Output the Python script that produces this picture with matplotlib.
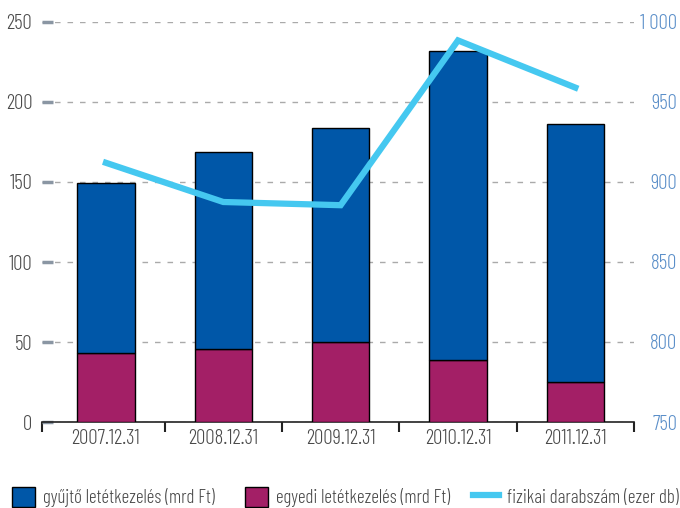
import matplotlib
matplotlib.use("Agg")
import matplotlib.pyplot as plt
import numpy as np

plt.rcParams['font.family'] = ['Barlow Condensed', 'DejaVu Sans']
plt.rcParams['font.weight'] = 300

categories = ["2007.12.31", "2008.12.31", "2009.12.31", "2010.12.31", "2011.12.31"]
total = [149.5, 169, 183.5, 232, 186.5]
egyedi = [43, 45.5, 50, 39, 25]
gyujto = [t - e for t, e in zip(total, egyedi)]
fizikai = [912, 887.5, 885.5, 988.5, 959]

left_ticks = [0, 50, 100, 150, 200, 250]
right_ticks = [750, 800, 850, 900, 950, 1000]
right_labels = ["750", "800", "850", "900", "950", "1 000"]

c_blue = "#0057A8"
c_mag = "#A31F66"
c_line = "#45C8F0"
c_txt = "#4A4A4A"
c_rtxt = "#5B8FC9"

fig = plt.figure(figsize=(6.8, 5.08), dpi=100)
ax = fig.add_axes([42/680, 86/508, 592/680, 400/508])
x = np.arange(len(categories))
w = 0.49
ax.bar(x, egyedi, w, color=c_mag, edgecolor="black", linewidth=1, zorder=3,
       label="egyedi letétkezelés (mrd Ft)")
ax.bar(x, gyujto, w, bottom=egyedi, color=c_blue, edgecolor="black", linewidth=1, zorder=3,
       label="gyűjtő letétkezelés (mrd Ft)")
xl = (-0.545, len(categories) - 0.5)
ax.set_xlim(*xl)
ax.set_ylim(0, 250)
ax.set_yticks(left_ticks)
ax.yaxis.grid(True, linestyle=(0, (4, 5)), color="#AAAAAA", linewidth=1, zorder=0)
ax.set_axisbelow(True)
for s in ["top", "right", "left"]:
    ax.spines[s].set_visible(False)
ax.spines["bottom"].set_color("#222222")
ax.spines["bottom"].set_linewidth(1.2)
ax.tick_params(axis="y", direction="in", length=8, width=2.5, color="#8A96A3",
               labelsize=15, labelcolor=c_txt, pad=7)
ax.set_xticks(x)
ax.set_xticklabels(categories, fontsize=15, color=c_txt)
ax.tick_params(axis="x", length=0, pad=5)
ax.set_xticks([xl[0]] + list(np.arange(1, len(categories) + 1) - 0.5), minor=True)
ax.tick_params(axis="x", which="minor", length=7, width=1.5, color="#222222")

ax2 = ax.twinx()
ax2.plot(x, fizikai, color=c_line, linewidth=4.5, zorder=4, solid_joinstyle="miter",
         label="fizikai darabszám (ezer db)")
ax2.set_ylim(750, 1000)
ax2.set_yticks(right_ticks)
ax2.set_yticklabels(right_labels)
for s in ["top", "right", "left", "bottom"]:
    ax2.spines[s].set_visible(False)
ax2.tick_params(axis="y", length=0, labelsize=15, labelcolor=c_rtxt, pad=31)
for t in ax2.get_yticklabels():
    t.set_horizontalalignment("right")

h1, l1 = ax.get_legend_handles_labels()
h2, l2 = ax2.get_legend_handles_labels()
handles = [h1[1], h1[0], h2[0]]
labels = [l1[1], l1[0], l2[0]]
starts = [12, 245, 473]
hlens = [1.2, 1.2, 1.35]
for hd, lb, sx, hl in zip(handles, labels, starts, hlens):
    leg = fig.legend([hd], [lb], loc="center left", bbox_to_anchor=(sx/680, 11/508),
                     frameon=False, fontsize=13.8, handlelength=hl, handleheight=1.2,
                     borderpad=0, borderaxespad=0, handletextpad=0.42, labelcolor=c_txt)

fig.savefig("out.png", dpi=100)
